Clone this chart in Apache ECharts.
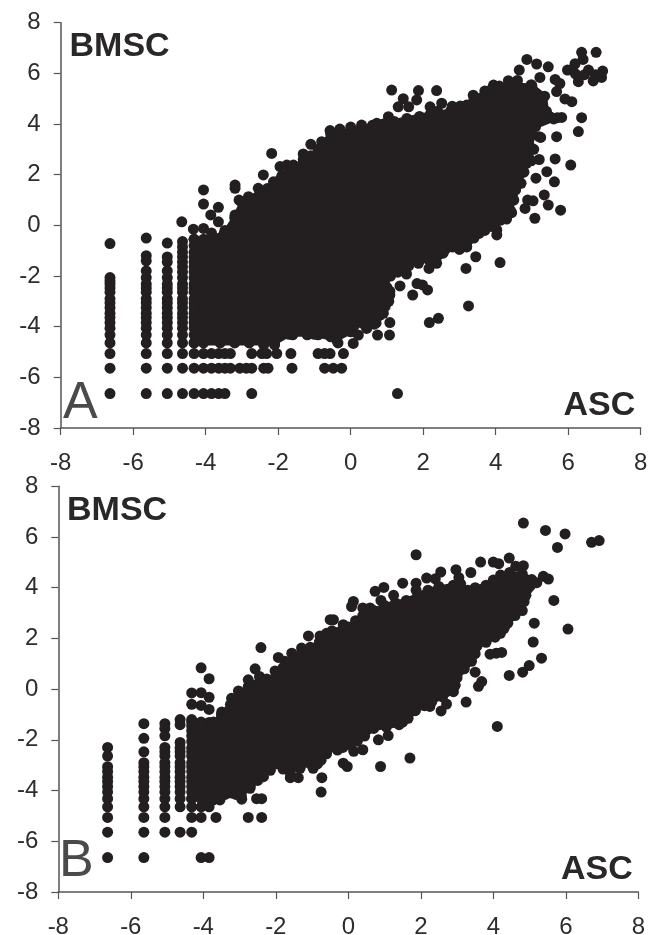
<!DOCTYPE html>
<html><head><meta charset="utf-8">
<style>html,body{margin:0;padding:0;background:#fff}#c{width:657px;height:935px}</style>
<script src="https://cdn.jsdelivr.net/npm/echarts@6/dist/echarts.min.js"></script>
</head><body><div id="c"></div>
<script>
const axisTicks = [-8,-6,-4,-2,0,2,4,6,8];

// Discrete columns at low ASC values: [x, y, y, ...]
const columnsA = [
 [-6.64,-0.72,-2.06,-2.2,-2.32,-2.47,-2.64,-2.9,-3.06,-3.25,-3.47,-3.64,-3.84,-4.06,-4.32,-4.64,-5.06,-5.64,-6.64],
 [-5.64,-0.5,-1.2,-1.4,-1.8,-2.06,-2.32,-2.47,-2.64,-2.9,-3.06,-3.25,-3.47,-3.64,-3.84,-4.06,-4.32,-4.64,-5.06,-5.64,-6.64],
 [-5.06,-0.7,-1.25,-1.45,-1.8,-2.06,-2.32,-2.47,-2.64,-2.9,-3.06,-3.25,-3.47,-3.64,-3.84,-4.06,-4.32,-4.64,-5.06,-5.64,-6.64],
 [-4.64,-0.64,-0.85,-1.06,-1.25,-1.45,-1.64,-1.84,-2.06,-2.32,-2.47,-2.64,-2.9,-3.06,-3.25,-3.47,-3.64,-3.84,-4.06,-4.32,-4.64,-5.06,-5.64,-6.64],
 [-4.32,-0.55,-0.8,-1.06,-1.25,-1.45,-1.64,-1.84,-2.06,-2.32,-2.47,-2.64,-2.9,-3.06,-3.25,-3.47,-3.64,-3.84,-4.06,-4.32,-4.64,-5.06,-5.64,-6.64]
];
const columnsB = [
 [-6.64,-2.3,-2.64,-3.06,-3.25,-3.47,-3.64,-3.84,-4.06,-4.32,-4.64,-5.06,-5.64,-6.64],
 [-5.64,-1.36,-1.94,-2.47,-2.9,-3.06,-3.25,-3.47,-3.64,-3.84,-4.06,-4.32,-4.64,-5.06,-5.64,-6.64],
 [-5.06,-1.36,-1.55,-1.84,-2.3,-2.47,-2.64,-2.9,-3.06,-3.25,-3.47,-3.64,-3.84,-4.06,-4.32,-4.64,-5.06,-5.64],
 [-4.64,-1.2,-1.4,-2.1,-2.32,-2.47,-2.64,-2.9,-3.06,-3.25,-3.47,-3.64,-3.84,-4.06,-4.32,-4.64,-5.64],
 [-4.32,-0.15,-0.6,-1.2,-1.45,-1.64,-1.84,-2.06,-2.32,-2.47,-2.64,-2.9,-3.06,-3.25,-3.47,-3.64,-3.84,-4.06,-4.32,-4.64,-5.06,-5.64]
];

// Separately visible dots (outliers and the bumpy rim of the overplotted cloud)
const pointsA = [
 [-4.66,0.14],[-4.34,-0.15],[-4.06,-0.12],[-4.06,0.84],[-4.06,1.4],[-3.65,0.71],[-3.86,0.41],[-3.65,0.14],[-3.84,-0.3],[-3.47,-0.2],
 [-3.19,1.59],[-3.19,1.46],[-3.19,0.41],[-3.08,1.0],[-2.82,1.13],[-2.55,1.46],[-2.41,1.99],[-2.18,2.84],[-2.13,1.72],[-1.95,1.8],[-1.95,2.32],[-1.76,2.38],[-1.58,2.38],[-1.31,2.82],[-1.31,2.6],[-1.1,3.2],[-0.8,3.3],[-0.57,3.74],
 [-0.3,3.8],[0,3.88],[0.3,3.96],[0.72,4.03],[1.04,4.29],[1.13,5.34],[1.45,5.0],[1.87,5.32],[2.37,5.32],[1.82,4.95],[1.31,4.68],[1.6,4.68],[2.19,4.68],[2.51,4.82],[2.8,4.7],[3.02,4.71],[3.38,5.14],[3.7,5.3],[3.94,5.54],[4.1,5.5],[4.35,5.71],[4.6,5.72],[4.65,6.13],[4.86,6.55],[5.13,6.37],[5.45,6.26],[5.22,5.84],[4.98,5.55],[5.64,5.76],[5.77,5.6],[5.68,5.28],[5.91,4.99],[6.1,4.88],[6.37,4.25],[6.28,3.7],[5.82,4.26],[5.6,4.2],[5.68,3.5],[5.24,3.47],[5.64,2.62],[5.2,2.6],[4.98,2.55],[6.07,2.38],[5.41,2.12],[5.11,1.86],[5.62,1.72],[4.7,1.66],[5.34,1.2],[4.88,1.0],[5.03,0.97],[5.45,0.8],[5.79,0.6],[4.81,0.67],[5.08,0.28],
 [6.37,6.83],[6.77,6.83],[6.41,6.55],[6.19,6.38],[5.98,6.13],[6.1,6.15],[6.2,5.98],[6.56,6.13],[6.95,6.09],[6.92,5.84],[6.69,5.7],[6.28,5.67],[6.45,5.95],[6.75,5.95],
 [4.44,0.5],[4.3,0.25],[4.12,0.2],[4.03,-0.18],[4.03,-0.38],[3.54,-0.32],[3.2,-0.84],[2.83,-0.84],[2.55,-1.1],[2.37,-1.5],[1.87,-1.5],[2.16,-1.7],[3.45,-1.24],[3.18,-1.7],[4.12,-1.47],[1.54,-1.92],[1.36,-2.39],[1.83,-2.3],[1.98,-2.35],[2.12,-2.55],[1.71,-2.75],[3.25,-3.18],[2.42,-3.67],[2.17,-3.84],
 [1.08,-2.75],[0.9,-3.47],[1.08,-3.84],[0.74,-4.33],[1.07,-4.33],[0.44,-4.07],[0.7,-3.85],[0.07,-4.66],[0.21,-4.33],[-0.2,-5.06],[-0.35,-4.64],[-0.57,-5.06],[-0.25,-5.64],[-0.48,-5.64],
 // rim between the outline corners
 [1.55,4.22],[1.9,4.3],[2.4,4.5],[2.75,4.5],[3.2,4.75],[5.2,3.5],[5.05,3.0],[4.9,2.8],[4.78,2.1],[4.55,1.4],[4.5,1.0],[4.3,0.7],[3.9,-0.05],[3.7,-0.2],[3.4,-0.5],[3.0,-0.95],[2.6,-0.95],[2.15,-1.35],[1.6,-1.6],[1.3,-1.85],[0.95,-2.15],[1.0,-2.45],[1.05,-3.0],[0.8,-3.55],[0.4,-3.95],
 [-2.95,0.8],[-2.7,1.0],[-2.3,1.45],[-1.9,1.95],[-1.5,2.25],[-1.1,2.75],[-0.75,3.2],[0.6,3.95],[-0.15,3.6],
 // rows at the lowest BMSC values
 [-4.06,-5.06],[-3.84,-5.06],[-3.64,-5.06],[-3.47,-5.06],[-3.32,-5.06],[-2.73,-5.06],[-2.45,-5.06],[-2.32,-5.06],[-2.04,-5.06],[-1.65,-5.06],[-0.9,-5.06],[-0.72,-5.06],
 [-4.06,-5.64],[-3.84,-5.64],[-3.64,-5.64],[-3.47,-5.64],[-3.32,-5.64],[-3.06,-5.64],[-2.88,-5.64],[-2.73,-5.64],[-2.4,-5.64],[-2.28,-5.64],[-1.62,-5.64],[-0.72,-5.64],
 [-4.06,-6.64],[-3.84,-6.64],[-3.64,-6.64],[-3.47,-6.64],[-2.73,-6.64],[1.29,-6.64],
 [-4.06,-4.64],[-3.6,-4.64],[-3.2,-4.64],[-2.8,-4.64],[-2.4,-4.72],[-2.1,-4.72],[-1.6,-4.32],[-1.2,-4.32],[-0.9,-4.32],[-0.55,-4.4],[-1.0,-4.1]
];
const pointsB = [
 [-4.06,0.84],[-3.84,0.41],[-4.06,-0.14],[-3.84,-0.32],[-4.06,-0.64],[-3.84,-0.8],[-3.84,-1.32],[-4.06,-1.3],
 [-3.72,-1.3],[-3.49,-0.9],[-3.22,-0.36],[-3.22,-0.6],[-3.03,-0.07],[-2.76,0.37],[-2.57,0.8],[-2.41,1.64],[-2.45,0.5],[-2.02,0.72],[-1.93,1.25],[-1.75,1.1],[-1.56,1.42],[-1.29,1.62],[-1.1,2.1],[-0.78,2.1],[-0.55,2.05],[-0.5,2.74],
 [-0.41,2.74],[-0.14,2.54],[0.14,3.46],[0.09,3.26],[0.4,3.2],[0.6,3.2],[0.74,3.86],[0.98,4.01],[0.9,3.5],[1.25,3.7],[1.5,4.18],[1.87,5.3],[1.87,4.18],[1.87,3.9],[2.16,4.38],[2.4,4.35],[2.55,4.62],[2.97,4.71],[3.05,4.4],[3.38,4.6],[3.65,5.01],[4.0,5.01],[4.15,4.95],[4.44,5.17],[4.83,6.55],[5.44,6.26],[5.98,6.12],[5.77,5.59],[6.71,5.79],[6.92,5.86],[4.62,4.85],[4.83,4.87],[5.38,4.45],[5.52,4.34],[5.06,4.32],[5.67,3.5],[5.13,2.6],[6.06,2.37],[5.1,1.86],[5.33,1.22],[4.99,0.93],[4.81,0.67],[4.44,0.54],[3.91,1.38],[4.08,1.42],[4.23,1.45],[3.25,-0.51],[4.11,-1.47],[1.7,-2.72],[0.89,-3.05],[-0.03,-3.05],[-0.14,-2.92],[0.4,-2.39],[0.15,-2.45],[0.83,-2.0],[1.1,-1.83],[2.56,-0.86],[2.25,-0.68],[2.71,-0.59],[3.59,0.11],[3.68,0.3],[3.5,0.67],[4.65,3.2],[4.85,3.45],
 [-0.73,-3.49],[-0.75,-4.06],[-0.97,-3.12],[-1.33,-3.12],[-1.38,-3.49],[-1.6,-3.49],[-2.34,-3.45],[-2.71,-3.91],[-2.94,-4.34],[-3.22,-4.1],[-3.54,-4.37],[-3.72,-4.37],[-3.91,-4.37],[-4.06,-4.32],[-4.06,-4.64],[-4.06,-5.06],[-3.84,-4.64],
 // rim between the outline corners
 [-3.0,-0.25],[-2.6,0.15],[-2.25,0.4],[-1.8,0.85],[-1.45,1.3],[-1.05,1.65],[-0.6,2.2],[0.2,2.7],[0.7,3.1],[1.3,3.4],[1.9,3.6],[2.5,4.05],[3.1,4.15],[3.5,4.0],[4.0,4.3],[4.45,4.6],[4.4,2.6],[4.2,2.2],[3.8,1.85],[3.5,1.4],[3.2,0.8],[2.95,0.15],[2.6,-0.3],[2.1,-0.65],[1.5,-1.3],[1.05,-1.5],[0.45,-1.85],[0.05,-2.2],[-0.3,-2.4],[-0.6,-2.55],[-0.85,-2.95],[-1.8,-3.15],[-2.15,-3.2],[-2.5,-3.6],[-3.1,-4.15],[-3.4,-4.15],
 [-3.65,-5.06],[-2.76,-5.06],[-2.39,-5.06],[-2.53,-4.32],[-2.39,-4.32],[-4.06,-6.64],[-3.84,-6.64]
];

// Outline of the fully overplotted cloud, read as dot centres
const massA = [
 [-4.32,-0.55],[-4.06,-0.55],[-3.5,-0.35],[-3.2,0.3],[-3.0,0.9],[-2.5,1.3],[-2.1,1.6],[-1.7,2.1],[-1.3,2.5],[-0.9,3.0],[-0.55,3.6],[0.3,3.85],[0.9,4.0],[1.2,4.1],[2.2,4.4],[3.0,4.55],[3.4,5.0],[3.9,5.4],[4.4,5.55],[5.0,5.5],[5.35,5.1],[5.4,4.5],[5.7,4.25],[5.1,3.9],[4.95,3.1],[4.85,2.45],[4.65,1.66],[4.4,0.6],[4.05,0.2],[3.5,-0.3],[3.2,-0.85],[2.8,-0.85],[2.35,-1.4],[1.85,-1.4],[1.1,-2.0],[0.75,-2.3],[1.08,-2.6],[0.95,-3.2],[0.65,-3.9],[0.1,-3.95],[0,-4.2],[-0.4,-4.5],[-1.0,-4.3],[-1.7,-4.3],[-2.1,-4.64],[-4.32,-4.64]
];
const massB = [
 [-4.32,-1.3],[-4.06,-1.4],[-3.72,-1.35],[-3.5,-1.0],[-3.25,-0.6],[-3.1,-0.5],[-2.76,0.1],[-2.5,0.2],[-2.0,0.5],[-1.6,1.1],[-1.3,1.4],[-0.8,1.85],[-0.45,2.3],[0,2.45],[0.4,2.9],[1.0,3.3],[1.6,3.5],[2.2,3.9],[2.9,4.1],[3.3,3.9],[3.8,4.1],[4.2,4.5],[4.8,4.55],[5.2,4.2],[4.9,3.7],[4.8,3.1],[4.6,2.9],[4.3,2.4],[4.05,2.05],[3.55,1.7],[3.4,1.1],[3.0,0.45],[2.9,-0.1],[2.3,-0.5],[1.85,-0.85],[1.65,-1.15],[1.4,-1.4],[0.7,-1.55],[0.25,-2.05],[-0.15,-2.3],[-0.5,-2.3],[-0.75,-2.8],[-1.0,-3.0],[-1.35,-3.0],[-1.6,-3.3],[-2.0,-2.95],[-2.35,-3.35],[-2.7,-3.8],[-2.95,-4.2],[-3.25,-4.0],[-3.55,-4.3],[-4.32,-4.32]
];

const INK = '#231f20';
const AXIS = '#555555';
const FONT = '"Liberation Sans", Arial, sans-serif';

function expand(cols){ const r=[]; cols.forEach(c=>{ for(let i=1;i<c.length;i++) r.push([c[0],c[i]]); }); return r; }

function axis(idx){
  return {
    gridIndex: idx, type:'value', min:-8, max:8, interval:2,
    axisLine:{show:true,onZero:false,lineStyle:{color:AXIS,width:1.5}},
    axisTick:{show:true,length:7,inside:false,lineStyle:{color:AXIS,width:1.2}},
    splitLine:{show:false},
    axisLabel:{color:'#2e2c2d',fontSize:24,fontFamily:FONT,showMinLabel:true,showMaxLabel:true,hideOverlap:false,
      formatter:v=>axisTicks.includes(v)?String(v):''}
  };
}
function xa(i){ const a=axis(i); a.position='bottom'; a.axisLabel.margin=23; return a; }
function ya(i){ const a=axis(i); a.position='left'; a.axisLabel.margin=20; return a; }

function massSeries(i,mass){
  return {
    type:'custom', xAxisIndex:i, yAxisIndex:i, silent:true, clip:false, z:2,
    data:mass,
    renderItem:(p,api)=> p.dataIndex===0 ? {
      type:'polygon',
      shape:{points:mass.map(m=>api.coord(m))},
      style:{fill:INK,stroke:INK,lineWidth:5,lineJoin:'round'}
    } : null
  };
}
function dotSeries(i,cols,pts,mass){
  return {
    type:'scatter', xAxisIndex:i, yAxisIndex:i, symbol:'circle', symbolSize:11, large:false, silent:true, z:3,
    clip:false, itemStyle:{color:INK,opacity:1},
    data:expand(cols).concat(pts,mass)
  };
}
function label(text,x,y,size,weight,family,fill){
  return {type:'text',left:x,top:y,silent:true,z:10,
    style:{text:text,fill:fill,font:weight+' '+size+'px '+family}};
}

const chart = echarts.init(document.getElementById('c'),null,{renderer:'canvas'});
chart.setOption({
  animation:false, backgroundColor:'#fff',
  grid:[
    {left:60.7,top:22.7,width:580,height:405.3,containLabel:false,outerBoundsMode:'none'},
    {left:58.3,top:486.3,width:580,height:405.7,containLabel:false,outerBoundsMode:'none'}
  ],
  xAxis:[xa(0),xa(1)], yAxis:[ya(0),ya(1)],
  series:[
    massSeries(0,massA), dotSeries(0,columnsA,pointsA,massA),
    massSeries(1,massB), dotSeries(1,columnsB,pointsB,massB)
  ],
  graphic:[
    label('BMSC',69.5,30,34,'bold',FONT,'#2a2728'),
    label('ASC',563.5,389,34,'bold',FONT,'#2a2728'),
    label('A',63,378,52,'normal',FONT,'#4a4a4a'),
    label('BMSC',67,494,34,'bold',FONT,'#2a2728'),
    label('ASC',561,853,34,'bold',FONT,'#2a2728'),
    label('B',59,836,52,'normal',FONT,'#4a4a4a')
  ]
});
</script></body></html>
